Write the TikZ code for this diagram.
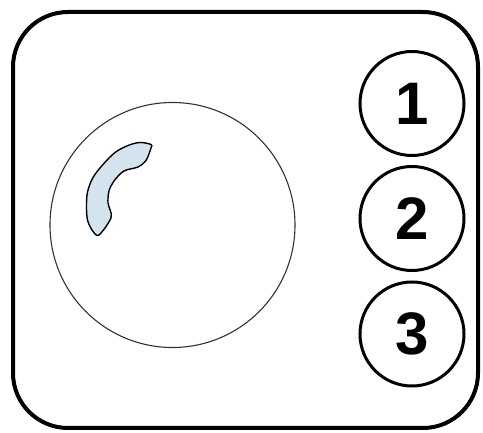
\documentclass[tikz,border=0pt]{standalone}
\usepackage{fontspec}
\setmainfont{Liberation Sans}
\begin{document}
\begin{tikzpicture}[x=1pt,y=-1pt,
  frame/.style={line width=4pt, rounded corners=55pt},
  knob/.style={draw=black!80, line width=1.1pt},
  btn/.style={circle, draw=black, line width=3pt, minimum size=104pt, inner sep=0pt, font=\fontsize{60}{60}\selectfont\bfseries}]
\useasboundingbox (0,0) rectangle (483,433);
\draw[frame] (13,12) rectangle (478,428);
\node[knob, circle, minimum size=245pt, inner sep=0pt] (dial) at (172.5,225) {};
\draw[black, line width=1.4pt, fill={rgb,255:red,212;green,228;blue,238}]
  plot[smooth cycle, tension=0.55] coordinates {
  (151,144.5) (140,142.5) (128,145.5) (115,152.5) (103,164.5) (93,177.5) (87.5,192)
  (86.5,207) (87.5,220) (92,230) (97.5,235.5) (103.5,230) (111,218) (110.5,211)
  (108,203) (109,191) (114,181) (124,171) (138,167) (146,160.5) (151,148)};
\node[btn] (b1) at (412,103.5) {1};
\node[btn] (b2) at (412,218.5) {2};
\node[btn] (b3) at (412,334) {3};
\end{tikzpicture}
\end{document}
